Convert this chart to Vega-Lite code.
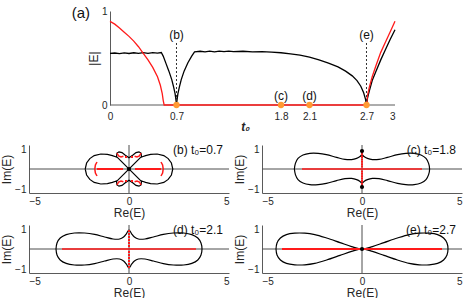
{
"$schema": "https://vega.github.io/schema/vega-lite/v6.json",
"padding": {"left": 0, "top": 5, "right": 0, "bottom": 0},
"config": {
 "view": {"stroke": null},
 "font": "Liberation Sans",
 "axis": {"grid": false, "ticks": false, "tickSize": 0, "domainColor": "#5a5a5a", "labelColor": "#262626", "titleColor": "#262626", "labelFontSize": 10, "titleFontSize": 12, "titleFontWeight": "normal", "labelPadding": 3, "titlePadding": 1},
 "text": {"font": "Liberation Sans"}
},
"datasets": {
 "T": [
  {"s":"black","t":0,"v":0.55},{"s":"black","t":0.05,"v":0.553},{"s":"black","t":0.1,"v":0.546},{"s":"black","t":0.15,"v":0.555},{"s":"black","t":0.2,"v":0.548},{"s":"black","t":0.25,"v":0.556},{"s":"black","t":0.3,"v":0.549},{"s":"black","t":0.35,"v":0.557},{"s":"black","t":0.4,"v":0.55},{"s":"black","t":0.45,"v":0.558},{"s":"black","t":0.5,"v":0.552},{"s":"black","t":0.54,"v":0.558},{"s":"black","t":0.56,"v":0.52},{"s":"black","t":0.59,"v":0.44},{"s":"black","t":0.62,"v":0.36},{"s":"black","t":0.65,"v":0.27},{"s":"black","t":0.67,"v":0.19},{"s":"black","t":0.685,"v":0.12},{"s":"black","t":0.695,"v":0.05},{"s":"black","t":0.7,"v":0},{"s":"black","t":0.705,"v":0.05},{"s":"black","t":0.715,"v":0.12},{"s":"black","t":0.73,"v":0.19},{"s":"black","t":0.75,"v":0.27},{"s":"black","t":0.78,"v":0.36},{"s":"black","t":0.82,"v":0.45},{"s":"black","t":0.86,"v":0.52},{"s":"black","t":0.89,"v":0.565},{"s":"black","t":0.95,"v":0.572},{"s":"black","t":1.0,"v":0.565},{"s":"black","t":1.05,"v":0.573},{"s":"black","t":1.1,"v":0.566},{"s":"black","t":1.15,"v":0.574},{"s":"black","t":1.2,"v":0.567},{"s":"black","t":1.25,"v":0.574},{"s":"black","t":1.3,"v":0.567},{"s":"black","t":1.4,"v":0.572},{"s":"black","t":1.5,"v":0.566},{"s":"black","t":1.6,"v":0.568},{"s":"black","t":1.7,"v":0.562},{"s":"black","t":1.8,"v":0.556},{"s":"black","t":1.9,"v":0.545},{"s":"black","t":2.0,"v":0.53},{"s":"black","t":2.1,"v":0.51},{"s":"black","t":2.2,"v":0.48},{"s":"black","t":2.3,"v":0.445},{"s":"black","t":2.4,"v":0.405},{"s":"black","t":2.48,"v":0.36},{"s":"black","t":2.55,"v":0.31},{"s":"black","t":2.6,"v":0.26},{"s":"black","t":2.64,"v":0.2},{"s":"black","t":2.67,"v":0.13},{"s":"black","t":2.69,"v":0.06},{"s":"black","t":2.7,"v":0},{"s":"black","t":2.71,"v":0.07},{"s":"black","t":2.73,"v":0.15},{"s":"black","t":2.76,"v":0.26},{"s":"black","t":2.8,"v":0.36},{"s":"black","t":2.85,"v":0.48},{"s":"black","t":2.9,"v":0.59},{"s":"black","t":2.95,"v":0.7},{"s":"black","t":3.0,"v":0.8},
  {"s":"red","t":0,"v":0.89},{"s":"red","t":0.05,"v":0.86},{"s":"red","t":0.1,"v":0.82},{"s":"red","t":0.15,"v":0.775},{"s":"red","t":0.2,"v":0.73},{"s":"red","t":0.25,"v":0.68},{"s":"red","t":0.3,"v":0.62},{"s":"red","t":0.35,"v":0.55},{"s":"red","t":0.4,"v":0.48},{"s":"red","t":0.45,"v":0.4},{"s":"red","t":0.5,"v":0.3},{"s":"red","t":0.53,"v":0.21},{"s":"red","t":0.55,"v":0.12},{"s":"red","t":0.56,"v":0.05},{"s":"red","t":0.57,"v":0},{"s":"red","t":1.5,"v":0},{"s":"red","t":2.7,"v":0},{"s":"red","t":2.71,"v":0.1},{"s":"red","t":2.73,"v":0.19},{"s":"red","t":2.76,"v":0.3},{"s":"red","t":2.8,"v":0.42},{"s":"red","t":2.85,"v":0.56},{"s":"red","t":2.9,"v":0.67},{"s":"red","t":2.95,"v":0.78},{"s":"red","t":3.0,"v":0.89}
 ],
 "P": [
  {"p":"b","k":"c","o":0,"x":-2.19,"y":0},{"p":"b","k":"c","o":1,"x":-2.12,"y":0.3},{"p":"b","k":"c","o":2,"x":-1.96,"y":0.52},{"p":"b","k":"c","o":3,"x":-1.74,"y":0.67},{"p":"b","k":"c","o":4,"x":-1.41,"y":0.75},{"p":"b","k":"c","o":5,"x":-1.08,"y":0.73},{"p":"b","k":"c","o":6,"x":-0.83,"y":0.67},{"p":"b","k":"c","o":7,"x":-0.63,"y":0.6},{"p":"b","k":"c","o":8,"x":-0.6,"y":0.8},{"p":"b","k":"c","o":9,"x":-0.5,"y":0.86},{"p":"b","k":"c","o":10,"x":-0.35,"y":0.82},{"p":"b","k":"c","o":11,"x":-0.2,"y":0.7},{"p":"b","k":"c","o":12,"x":0,"y":0.56},{"p":"b","k":"c","o":13,"x":0.2,"y":0.7},{"p":"b","k":"c","o":14,"x":0.35,"y":0.82},{"p":"b","k":"c","o":15,"x":0.5,"y":0.86},{"p":"b","k":"c","o":16,"x":0.6,"y":0.8},{"p":"b","k":"c","o":17,"x":0.63,"y":0.6},{"p":"b","k":"c","o":18,"x":0.83,"y":0.67},{"p":"b","k":"c","o":19,"x":1.08,"y":0.73},{"p":"b","k":"c","o":20,"x":1.41,"y":0.75},{"p":"b","k":"c","o":21,"x":1.74,"y":0.67},{"p":"b","k":"c","o":22,"x":1.96,"y":0.52},{"p":"b","k":"c","o":23,"x":2.12,"y":0.3},{"p":"b","k":"c","o":24,"x":2.19,"y":0},{"p":"b","k":"c","o":25,"x":2.12,"y":-0.3},{"p":"b","k":"c","o":26,"x":1.96,"y":-0.52},{"p":"b","k":"c","o":27,"x":1.74,"y":-0.67},{"p":"b","k":"c","o":28,"x":1.41,"y":-0.75},{"p":"b","k":"c","o":29,"x":1.08,"y":-0.73},{"p":"b","k":"c","o":30,"x":0.83,"y":-0.67},{"p":"b","k":"c","o":31,"x":0.63,"y":-0.6},{"p":"b","k":"c","o":32,"x":0.6,"y":-0.8},{"p":"b","k":"c","o":33,"x":0.5,"y":-0.86},{"p":"b","k":"c","o":34,"x":0.35,"y":-0.82},{"p":"b","k":"c","o":35,"x":0.2,"y":-0.7},{"p":"b","k":"c","o":36,"x":0,"y":-0.56},{"p":"b","k":"c","o":37,"x":-0.2,"y":-0.7},{"p":"b","k":"c","o":38,"x":-0.35,"y":-0.82},{"p":"b","k":"c","o":39,"x":-0.5,"y":-0.86},{"p":"b","k":"c","o":40,"x":-0.6,"y":-0.8},{"p":"b","k":"c","o":41,"x":-0.63,"y":-0.6},{"p":"b","k":"c","o":42,"x":-0.83,"y":-0.67},{"p":"b","k":"c","o":43,"x":-1.08,"y":-0.73},{"p":"b","k":"c","o":44,"x":-1.41,"y":-0.75},{"p":"b","k":"c","o":45,"x":-1.74,"y":-0.67},{"p":"b","k":"c","o":46,"x":-1.96,"y":-0.52},{"p":"b","k":"c","o":47,"x":-2.12,"y":-0.3},{"p":"b","k":"c","o":48,"x":-2.19,"y":0},
  {"p":"b","k":"s","g":"x1","o":0,"x":-0.62,"y":0.62},{"p":"b","k":"s","g":"x1","o":1,"x":0.62,"y":-0.62},{"p":"b","k":"s","g":"x2","o":0,"x":0.62,"y":0.62},{"p":"b","k":"s","g":"x2","o":1,"x":-0.62,"y":-0.62},
  {"p":"b","k":"r","g":"bl","o":0,"x":-1.6,"y":0.35},{"p":"b","k":"r","g":"bl","o":1,"x":-1.68,"y":0.2},{"p":"b","k":"r","g":"bl","o":2,"x":-1.71,"y":0},{"p":"b","k":"r","g":"bl","o":3,"x":-1.68,"y":-0.2},{"p":"b","k":"r","g":"bl","o":4,"x":-1.6,"y":-0.35},
  {"p":"b","k":"r","g":"br","o":0,"x":1.6,"y":0.35},{"p":"b","k":"r","g":"br","o":1,"x":1.68,"y":0.2},{"p":"b","k":"r","g":"br","o":2,"x":1.71,"y":0},{"p":"b","k":"r","g":"br","o":3,"x":1.68,"y":-0.2},{"p":"b","k":"r","g":"br","o":4,"x":1.6,"y":-0.35},
  {"p":"b","k":"r","g":"e1","o":0,"x":-0.6,"y":0.8},{"p":"b","k":"r","g":"e1","o":1,"x":-0.52,"y":0.65},{"p":"b","k":"r","g":"e1","o":2,"x":-0.4,"y":0.6},{"p":"b","k":"r","g":"e1","o":3,"x":-0.28,"y":0.64},
  {"p":"b","k":"r","g":"e2","o":0,"x":0.6,"y":0.8},{"p":"b","k":"r","g":"e2","o":1,"x":0.52,"y":0.65},{"p":"b","k":"r","g":"e2","o":2,"x":0.4,"y":0.6},{"p":"b","k":"r","g":"e2","o":3,"x":0.28,"y":0.64},
  {"p":"b","k":"r","g":"e3","o":0,"x":-0.6,"y":-0.8},{"p":"b","k":"r","g":"e3","o":1,"x":-0.52,"y":-0.65},{"p":"b","k":"r","g":"e3","o":2,"x":-0.4,"y":-0.6},{"p":"b","k":"r","g":"e3","o":3,"x":-0.28,"y":-0.64},
  {"p":"b","k":"r","g":"e4","o":0,"x":0.6,"y":-0.8},{"p":"b","k":"r","g":"e4","o":1,"x":0.52,"y":-0.65},{"p":"b","k":"r","g":"e4","o":2,"x":0.4,"y":-0.6},{"p":"b","k":"r","g":"e4","o":3,"x":0.28,"y":-0.64},
  {"p":"b","k":"p","x":0.35,"y":0},{"p":"b","k":"p","x":0.45,"y":0},{"p":"b","k":"p","x":0.55,"y":0},{"p":"b","k":"p","x":0.65,"y":0},{"p":"b","k":"p","x":0.75,"y":0},{"p":"b","k":"p","x":0.85,"y":0},{"p":"b","k":"p","x":0.95,"y":0},{"p":"b","k":"p","x":1.05,"y":0},{"p":"b","k":"p","x":1.15,"y":0},{"p":"b","k":"p","x":1.25,"y":0},{"p":"b","k":"p","x":1.35,"y":0},{"p":"b","k":"p","x":1.45,"y":0},{"p":"b","k":"p","x":1.55,"y":0},
  {"p":"b","k":"p","x":-0.35,"y":0},{"p":"b","k":"p","x":-0.45,"y":0},{"p":"b","k":"p","x":-0.55,"y":0},{"p":"b","k":"p","x":-0.65,"y":0},{"p":"b","k":"p","x":-0.75,"y":0},{"p":"b","k":"p","x":-0.85,"y":0},{"p":"b","k":"p","x":-0.95,"y":0},{"p":"b","k":"p","x":-1.05,"y":0},{"p":"b","k":"p","x":-1.15,"y":0},{"p":"b","k":"p","x":-1.25,"y":0},{"p":"b","k":"p","x":-1.35,"y":0},{"p":"b","k":"p","x":-1.45,"y":0},{"p":"b","k":"p","x":-1.55,"y":0},
  {"p":"b","k":"p","x":-0.15,"y":0.6},{"p":"b","k":"p","x":0.15,"y":0.6},{"p":"b","k":"p","x":-0.15,"y":-0.6},{"p":"b","k":"p","x":0.15,"y":-0.6},
  {"p":"b","k":"d","x":0,"y":0},

  {"p":"c","k":"c","o":0,"x":-3.38,"y":0},{"p":"c","k":"c","o":1,"x":-3.33,"y":0.28},{"p":"c","k":"c","o":2,"x":-3.2,"y":0.53},{"p":"c","k":"c","o":3,"x":-2.95,"y":0.7},{"p":"c","k":"c","o":4,"x":-2.61,"y":0.78},{"p":"c","k":"c","o":5,"x":-2.19,"y":0.78},{"p":"c","k":"c","o":6,"x":-1.78,"y":0.72},{"p":"c","k":"c","o":7,"x":-1.27,"y":0.58},{"p":"c","k":"c","o":8,"x":-0.85,"y":0.48},{"p":"c","k":"c","o":9,"x":-0.52,"y":0.47},{"p":"c","k":"c","o":10,"x":-0.27,"y":0.53},{"p":"c","k":"c","o":11,"x":-0.1,"y":0.62},{"p":"c","k":"c","o":12,"x":0,"y":0.72},{"p":"c","k":"c","o":13,"x":0.1,"y":0.62},{"p":"c","k":"c","o":14,"x":0.27,"y":0.53},{"p":"c","k":"c","o":15,"x":0.52,"y":0.47},{"p":"c","k":"c","o":16,"x":0.85,"y":0.48},{"p":"c","k":"c","o":17,"x":1.27,"y":0.58},{"p":"c","k":"c","o":18,"x":1.78,"y":0.72},{"p":"c","k":"c","o":19,"x":2.19,"y":0.78},{"p":"c","k":"c","o":20,"x":2.61,"y":0.78},{"p":"c","k":"c","o":21,"x":2.95,"y":0.7},{"p":"c","k":"c","o":22,"x":3.2,"y":0.53},{"p":"c","k":"c","o":23,"x":3.33,"y":0.28},{"p":"c","k":"c","o":24,"x":3.38,"y":0},{"p":"c","k":"c","o":25,"x":3.33,"y":-0.28},{"p":"c","k":"c","o":26,"x":3.2,"y":-0.53},{"p":"c","k":"c","o":27,"x":2.95,"y":-0.7},{"p":"c","k":"c","o":28,"x":2.61,"y":-0.78},{"p":"c","k":"c","o":29,"x":2.19,"y":-0.78},{"p":"c","k":"c","o":30,"x":1.78,"y":-0.72},{"p":"c","k":"c","o":31,"x":1.27,"y":-0.58},{"p":"c","k":"c","o":32,"x":0.85,"y":-0.48},{"p":"c","k":"c","o":33,"x":0.52,"y":-0.47},{"p":"c","k":"c","o":34,"x":0.27,"y":-0.53},{"p":"c","k":"c","o":35,"x":0.1,"y":-0.62},{"p":"c","k":"c","o":36,"x":0,"y":-0.72},{"p":"c","k":"c","o":37,"x":-0.1,"y":-0.62},{"p":"c","k":"c","o":38,"x":-0.27,"y":-0.53},{"p":"c","k":"c","o":39,"x":-0.52,"y":-0.47},{"p":"c","k":"c","o":40,"x":-0.85,"y":-0.48},{"p":"c","k":"c","o":41,"x":-1.27,"y":-0.58},{"p":"c","k":"c","o":42,"x":-1.78,"y":-0.72},{"p":"c","k":"c","o":43,"x":-2.19,"y":-0.78},{"p":"c","k":"c","o":44,"x":-2.61,"y":-0.78},{"p":"c","k":"c","o":45,"x":-2.95,"y":-0.7},{"p":"c","k":"c","o":46,"x":-3.2,"y":-0.53},{"p":"c","k":"c","o":47,"x":-3.33,"y":-0.28},{"p":"c","k":"c","o":48,"x":-3.38,"y":0},
  {"p":"c","k":"s","g":"t","o":0,"x":0,"y":0.72},{"p":"c","k":"s","g":"t","o":1,"x":0,"y":0.9},{"p":"c","k":"s","g":"b","o":0,"x":0,"y":-0.72},{"p":"c","k":"s","g":"b","o":1,"x":0,"y":-0.9},
  {"p":"c","k":"r","g":"h","o":0,"x":-3.0,"y":0},{"p":"c","k":"r","g":"h","o":1,"x":3.0,"y":0},
  {"p":"c","k":"p","x":0,"y":0.12},{"p":"c","k":"p","x":0,"y":0.24},{"p":"c","k":"p","x":0,"y":0.36},{"p":"c","k":"p","x":0,"y":0.48},{"p":"c","k":"p","x":0,"y":0.6},{"p":"c","k":"p","x":0,"y":0.72},{"p":"c","k":"p","x":0,"y":0.84},{"p":"c","k":"p","x":0,"y":-0.12},{"p":"c","k":"p","x":0,"y":-0.24},{"p":"c","k":"p","x":0,"y":-0.36},{"p":"c","k":"p","x":0,"y":-0.48},{"p":"c","k":"p","x":0,"y":-0.6},{"p":"c","k":"p","x":0,"y":-0.72},{"p":"c","k":"p","x":0,"y":-0.84},
  {"p":"c","k":"d","x":0,"y":0.9},{"p":"c","k":"d","x":0,"y":-0.9},

  {"p":"d","k":"c","o":0,"x":-3.65,"y":0},{"p":"d","k":"c","o":1,"x":-3.6,"y":0.3},{"p":"d","k":"c","o":2,"x":-3.44,"y":0.55},{"p":"d","k":"c","o":3,"x":-3.14,"y":0.72},{"p":"d","k":"c","o":4,"x":-2.73,"y":0.8},{"p":"d","k":"c","o":5,"x":-2.22,"y":0.8},{"p":"d","k":"c","o":6,"x":-1.72,"y":0.73},{"p":"d","k":"c","o":7,"x":-1.22,"y":0.6},{"p":"d","k":"c","o":8,"x":-0.8,"y":0.5},{"p":"d","k":"c","o":9,"x":-0.47,"y":0.5},{"p":"d","k":"c","o":10,"x":-0.27,"y":0.6},{"p":"d","k":"c","o":11,"x":-0.13,"y":0.76},{"p":"d","k":"c","o":12,"x":0,"y":0.95},{"p":"d","k":"c","o":13,"x":0.13,"y":0.76},{"p":"d","k":"c","o":14,"x":0.27,"y":0.6},{"p":"d","k":"c","o":15,"x":0.47,"y":0.5},{"p":"d","k":"c","o":16,"x":0.8,"y":0.5},{"p":"d","k":"c","o":17,"x":1.22,"y":0.6},{"p":"d","k":"c","o":18,"x":1.72,"y":0.73},{"p":"d","k":"c","o":19,"x":2.22,"y":0.8},{"p":"d","k":"c","o":20,"x":2.73,"y":0.8},{"p":"d","k":"c","o":21,"x":3.14,"y":0.72},{"p":"d","k":"c","o":22,"x":3.44,"y":0.55},{"p":"d","k":"c","o":23,"x":3.6,"y":0.3},{"p":"d","k":"c","o":24,"x":3.65,"y":0},{"p":"d","k":"c","o":25,"x":3.6,"y":-0.3},{"p":"d","k":"c","o":26,"x":3.44,"y":-0.55},{"p":"d","k":"c","o":27,"x":3.14,"y":-0.72},{"p":"d","k":"c","o":28,"x":2.73,"y":-0.8},{"p":"d","k":"c","o":29,"x":2.22,"y":-0.8},{"p":"d","k":"c","o":30,"x":1.72,"y":-0.73},{"p":"d","k":"c","o":31,"x":1.22,"y":-0.6},{"p":"d","k":"c","o":32,"x":0.8,"y":-0.5},{"p":"d","k":"c","o":33,"x":0.47,"y":-0.5},{"p":"d","k":"c","o":34,"x":0.27,"y":-0.6},{"p":"d","k":"c","o":35,"x":0.13,"y":-0.76},{"p":"d","k":"c","o":36,"x":0,"y":-0.95},{"p":"d","k":"c","o":37,"x":-0.13,"y":-0.76},{"p":"d","k":"c","o":38,"x":-0.27,"y":-0.6},{"p":"d","k":"c","o":39,"x":-0.47,"y":-0.5},{"p":"d","k":"c","o":40,"x":-0.8,"y":-0.5},{"p":"d","k":"c","o":41,"x":-1.22,"y":-0.6},{"p":"d","k":"c","o":42,"x":-1.72,"y":-0.73},{"p":"d","k":"c","o":43,"x":-2.22,"y":-0.8},{"p":"d","k":"c","o":44,"x":-2.73,"y":-0.8},{"p":"d","k":"c","o":45,"x":-3.14,"y":-0.72},{"p":"d","k":"c","o":46,"x":-3.44,"y":-0.55},{"p":"d","k":"c","o":47,"x":-3.6,"y":-0.3},{"p":"d","k":"c","o":48,"x":-3.65,"y":0},
  {"p":"d","k":"r","g":"h","o":0,"x":-3.35,"y":0},{"p":"d","k":"r","g":"h","o":1,"x":3.35,"y":0},
  {"p":"d","k":"p","x":0,"y":0.15},{"p":"d","k":"p","x":0,"y":0.3},{"p":"d","k":"p","x":0,"y":0.45},{"p":"d","k":"p","x":0,"y":0.6},{"p":"d","k":"p","x":0,"y":0.75},{"p":"d","k":"p","x":0,"y":0.9},{"p":"d","k":"p","x":0,"y":-0.15},{"p":"d","k":"p","x":0,"y":-0.3},{"p":"d","k":"p","x":0,"y":-0.45},{"p":"d","k":"p","x":0,"y":-0.6},{"p":"d","k":"p","x":0,"y":-0.75},{"p":"d","k":"p","x":0,"y":-0.9},

  {"p":"e","k":"c","o":0,"x":-4.3,"y":0},{"p":"e","k":"c","o":1,"x":-4.25,"y":0.3},{"p":"e","k":"c","o":2,"x":-4.08,"y":0.55},{"p":"e","k":"c","o":3,"x":-3.78,"y":0.72},{"p":"e","k":"c","o":4,"x":-3.36,"y":0.79},{"p":"e","k":"c","o":5,"x":-2.86,"y":0.79},{"p":"e","k":"c","o":6,"x":-2.36,"y":0.72},{"p":"e","k":"c","o":7,"x":-1.77,"y":0.55},{"p":"e","k":"c","o":8,"x":-1.1,"y":0.32},{"p":"e","k":"c","o":9,"x":-0.52,"y":0.12},{"p":"e","k":"c","o":10,"x":0,"y":0},{"p":"e","k":"c","o":11,"x":0.52,"y":0.12},{"p":"e","k":"c","o":12,"x":1.1,"y":0.32},{"p":"e","k":"c","o":13,"x":1.77,"y":0.55},{"p":"e","k":"c","o":14,"x":2.36,"y":0.72},{"p":"e","k":"c","o":15,"x":2.86,"y":0.79},{"p":"e","k":"c","o":16,"x":3.36,"y":0.79},{"p":"e","k":"c","o":17,"x":3.78,"y":0.72},{"p":"e","k":"c","o":18,"x":4.08,"y":0.55},{"p":"e","k":"c","o":19,"x":4.25,"y":0.3},{"p":"e","k":"c","o":20,"x":4.3,"y":0},{"p":"e","k":"c","o":21,"x":4.25,"y":-0.3},{"p":"e","k":"c","o":22,"x":4.08,"y":-0.55},{"p":"e","k":"c","o":23,"x":3.78,"y":-0.72},{"p":"e","k":"c","o":24,"x":3.36,"y":-0.79},{"p":"e","k":"c","o":25,"x":2.86,"y":-0.79},{"p":"e","k":"c","o":26,"x":2.36,"y":-0.72},{"p":"e","k":"c","o":27,"x":1.77,"y":-0.55},{"p":"e","k":"c","o":28,"x":1.1,"y":-0.32},{"p":"e","k":"c","o":29,"x":0.52,"y":-0.12},{"p":"e","k":"c","o":30,"x":0,"y":0},{"p":"e","k":"c","o":31,"x":-0.52,"y":-0.12},{"p":"e","k":"c","o":32,"x":-1.1,"y":-0.32},{"p":"e","k":"c","o":33,"x":-1.77,"y":-0.55},{"p":"e","k":"c","o":34,"x":-2.36,"y":-0.72},{"p":"e","k":"c","o":35,"x":-2.86,"y":-0.79},{"p":"e","k":"c","o":36,"x":-3.36,"y":-0.79},{"p":"e","k":"c","o":37,"x":-3.78,"y":-0.72},{"p":"e","k":"c","o":38,"x":-4.08,"y":-0.55},{"p":"e","k":"c","o":39,"x":-4.25,"y":-0.3},{"p":"e","k":"c","o":40,"x":-4.3,"y":0},
  {"p":"e","k":"r","g":"h","o":0,"x":-4.0,"y":0},{"p":"e","k":"r","g":"h","o":1,"x":4.0,"y":0},
  {"p":"e","k":"d","x":0,"y":0}
 ]
},
"spacing": 11,
"vconcat": [
 {"width": 366, "height": 94,
  "layer": [
   {"data": {"values": [{}]}, "mark": {"type": "rule", "color": "#5a5a5a"},
    "encoding": {"x": {"datum": 0, "type": "quantitative"}, "x2": {"datum": 3}, "y": {"datum": 0, "type": "quantitative"}}},
   {"data": {"name": "T"}, "mark": {"type": "line", "strokeWidth": 1.3},
    "encoding": {
     "x": {"field": "t", "type": "quantitative", "scale": {"domain": [-0.8526, 3], "nice": false, "zero": false}, "axis": {"values": [0, 0.7, 1.8, 2.1, 2.7, 3], "format": "~g", "domain": false, "title": "t₀", "titleFontStyle": "italic", "titleFontWeight": "bold", "labelPadding": 6, "titlePadding": 0, "titleX": 216}},
     "y": {"field": "v", "type": "quantitative", "scale": {"domain": [0, 1], "nice": false}, "axis": {"values": [0, 1], "format": "~g", "title": "|E|", "offset": -81}},
     "color": {"field": "s", "type": "nominal", "scale": {"domain": ["black", "red"], "range": ["#000000", "#ff1a1a"]}, "legend": null}}},
   {"data": {"values": [{"t": 0.7}, {"t": 2.7}]}, "mark": {"type": "rule", "strokeDash": [2, 2], "color": "#333", "strokeWidth": 1},
    "encoding": {"x": {"field": "t", "type": "quantitative"}, "y": {"datum": 0, "type": "quantitative"}, "y2": {"datum": 0.67}}},
   {"data": {"values": [{"t": 0.7, "lab": "(b)"}, {"t": 2.7, "lab": "(e)"}]}, "mark": {"type": "text", "fontSize": 12, "color": "#111"},
    "encoding": {"x": {"field": "t", "type": "quantitative"}, "y": {"datum": 0.745, "type": "quantitative"}, "text": {"field": "lab"}}},
   {"data": {"values": [{"t": 1.8, "lab": "(c)"}, {"t": 2.1, "lab": "(d)"}]}, "mark": {"type": "text", "fontSize": 12, "color": "#111"},
    "encoding": {"x": {"field": "t", "type": "quantitative"}, "y": {"datum": 0.096, "type": "quantitative"}, "text": {"field": "lab"}}},
   {"data": {"values": [{"lab": "(a)"}]}, "mark": {"type": "text", "fontSize": 15, "color": "#111", "align": "right"},
    "encoding": {"x": {"datum": -0.21, "type": "quantitative"}, "y": {"datum": 0.98, "type": "quantitative"}, "text": {"field": "lab"}}},
   {"data": {"values": [{"t": 0.7}, {"t": 1.8}, {"t": 2.1}, {"t": 2.7}]}, "mark": {"type": "point", "filled": true, "size": 40, "color": "#ff9a33", "opacity": 1},
    "encoding": {"x": {"field": "t", "type": "quantitative"}, "y": {"datum": 0, "type": "quantitative"}}}
  ]},
 {"columns": 2, "spacing": {"row": 5, "column": 3},
  "concat": [
   {"width": 200, "height": 48, "data": {"name": "P"},
    "layer": [
     {"data": {"values": [{}]}, "mark": {"type": "rule", "color": "#4d4d4d"}, "encoding": {"y": {"datum": 0, "type": "quantitative"}}},
     {"data": {"values": [{}]}, "mark": {"type": "rule", "color": "#4d4d4d"}, "encoding": {"x": {"datum": 0, "type": "quantitative"}}},
     {"transform": [{"filter": "datum.p=='b' && datum.k=='c'"}], "mark": {"type": "line", "color": "#000", "strokeWidth": 1.2},
      "encoding": {"x": {"field": "x", "type": "quantitative", "scale": {"domain": [-5, 5], "nice": false}, "axis": {"values": [-5, 0, 5], "title": "Re(E)", "titlePadding": 1}}, "y": {"field": "y", "type": "quantitative", "scale": {"domain": [-1.2, 1.2], "nice": false}, "axis": {"values": [-1, 0, 1], "title": "Im(E)"}}, "order": {"field": "o", "type": "quantitative"}}},
     {"transform": [{"filter": "datum.p=='b' && datum.k=='s'"}], "mark": {"type": "line", "color": "#000", "strokeWidth": 1.2},
      "encoding": {"x": {"field": "x", "type": "quantitative"}, "y": {"field": "y", "type": "quantitative"}, "detail": {"field": "g"}, "order": {"field": "o", "type": "quantitative"}}},
     {"transform": [{"filter": "datum.p=='b' && datum.k=='r'"}], "mark": {"type": "line", "color": "#ff1a1a", "strokeWidth": 1.5},
      "encoding": {"x": {"field": "x", "type": "quantitative"}, "y": {"field": "y", "type": "quantitative"}, "detail": {"field": "g"}, "order": {"field": "o", "type": "quantitative"}}},
     {"transform": [{"filter": "datum.p=='b' && datum.k=='p'"}], "mark": {"type": "square", "filled": true, "size": 4, "color": "#ff1a1a", "opacity": 1},
      "encoding": {"x": {"field": "x", "type": "quantitative"}, "y": {"field": "y", "type": "quantitative"}}},
     {"transform": [{"filter": "datum.p=='b' && datum.k=='d'"}], "mark": {"type": "circle", "size": 18, "color": "#000", "opacity": 1},
      "encoding": {"x": {"field": "x", "type": "quantitative"}, "y": {"field": "y", "type": "quantitative"}}},
     {"data": {"values": [{"lab": "(b) t₀=0.7"}]}, "mark": {"type": "text", "fontSize": 12, "color": "#111", "align": "right"},
      "encoding": {"x": {"datum": 4.7, "type": "quantitative"}, "y": {"datum": 0.95, "type": "quantitative"}, "text": {"field": "lab"}}}
    ]},
   {"width": 200, "height": 48, "data": {"name": "P"},
    "layer": [
     {"data": {"values": [{}]}, "mark": {"type": "rule", "color": "#4d4d4d"}, "encoding": {"y": {"datum": 0, "type": "quantitative"}}},
     {"data": {"values": [{}]}, "mark": {"type": "rule", "color": "#4d4d4d"}, "encoding": {"x": {"datum": 0, "type": "quantitative"}}},
     {"transform": [{"filter": "datum.p=='c' && datum.k=='c'"}], "mark": {"type": "line", "color": "#000", "strokeWidth": 1.2, "interpolate": "catmull-rom"},
      "encoding": {"x": {"field": "x", "type": "quantitative", "scale": {"domain": [-5, 5], "nice": false}, "axis": {"values": [-5, 0, 5], "title": "Re(E)", "titlePadding": 1}}, "y": {"field": "y", "type": "quantitative", "scale": {"domain": [-1.2, 1.2], "nice": false}, "axis": {"values": [-1, 0, 1], "title": "Im(E)"}}, "order": {"field": "o", "type": "quantitative"}}},
     {"transform": [{"filter": "datum.p=='c' && datum.k=='s'"}], "mark": {"type": "line", "color": "#000", "strokeWidth": 1.2},
      "encoding": {"x": {"field": "x", "type": "quantitative"}, "y": {"field": "y", "type": "quantitative"}, "detail": {"field": "g"}, "order": {"field": "o", "type": "quantitative"}}},
     {"transform": [{"filter": "datum.p=='c' && datum.k=='r'"}], "mark": {"type": "line", "color": "#ff1a1a", "strokeWidth": 1.5},
      "encoding": {"x": {"field": "x", "type": "quantitative"}, "y": {"field": "y", "type": "quantitative"}, "detail": {"field": "g"}, "order": {"field": "o", "type": "quantitative"}}},
     {"transform": [{"filter": "datum.p=='c' && datum.k=='p'"}], "mark": {"type": "square", "filled": true, "size": 4, "color": "#ff1a1a", "opacity": 1},
      "encoding": {"x": {"field": "x", "type": "quantitative"}, "y": {"field": "y", "type": "quantitative"}}},
     {"transform": [{"filter": "datum.p=='c' && datum.k=='d'"}], "mark": {"type": "circle", "size": 18, "color": "#000", "opacity": 1},
      "encoding": {"x": {"field": "x", "type": "quantitative"}, "y": {"field": "y", "type": "quantitative"}}},
     {"data": {"values": [{"lab": "(c) t₀=1.8"}]}, "mark": {"type": "text", "fontSize": 12, "color": "#111", "align": "right"},
      "encoding": {"x": {"datum": 4.7, "type": "quantitative"}, "y": {"datum": 0.95, "type": "quantitative"}, "text": {"field": "lab"}}}
    ]},
   {"width": 200, "height": 48, "data": {"name": "P"},
    "layer": [
     {"data": {"values": [{}]}, "mark": {"type": "rule", "color": "#4d4d4d"}, "encoding": {"y": {"datum": 0, "type": "quantitative"}}},
     {"data": {"values": [{}]}, "mark": {"type": "rule", "color": "#4d4d4d"}, "encoding": {"x": {"datum": 0, "type": "quantitative"}}},
     {"transform": [{"filter": "datum.p=='d' && datum.k=='c'"}], "mark": {"type": "line", "color": "#000", "strokeWidth": 1.2, "interpolate": "catmull-rom"},
      "encoding": {"x": {"field": "x", "type": "quantitative", "scale": {"domain": [-5, 5], "nice": false}, "axis": {"values": [-5, 0, 5], "title": "Re(E)", "titlePadding": 1}}, "y": {"field": "y", "type": "quantitative", "scale": {"domain": [-1.2, 1.2], "nice": false}, "axis": {"values": [-1, 0, 1], "title": "Im(E)"}}, "order": {"field": "o", "type": "quantitative"}}},
     {"transform": [{"filter": "datum.p=='d' && datum.k=='r'"}], "mark": {"type": "line", "color": "#ff1a1a", "strokeWidth": 1.5},
      "encoding": {"x": {"field": "x", "type": "quantitative"}, "y": {"field": "y", "type": "quantitative"}, "detail": {"field": "g"}, "order": {"field": "o", "type": "quantitative"}}},
     {"transform": [{"filter": "datum.p=='d' && datum.k=='p'"}], "mark": {"type": "square", "filled": true, "size": 4, "color": "#ff1a1a", "opacity": 1},
      "encoding": {"x": {"field": "x", "type": "quantitative"}, "y": {"field": "y", "type": "quantitative"}}},
     {"data": {"values": [{"lab": "(d) t₀=2.1"}]}, "mark": {"type": "text", "fontSize": 12, "color": "#111", "align": "right"},
      "encoding": {"x": {"datum": 4.7, "type": "quantitative"}, "y": {"datum": 0.95, "type": "quantitative"}, "text": {"field": "lab"}}}
    ]},
   {"width": 200, "height": 48, "data": {"name": "P"},
    "layer": [
     {"data": {"values": [{}]}, "mark": {"type": "rule", "color": "#4d4d4d"}, "encoding": {"y": {"datum": 0, "type": "quantitative"}}},
     {"data": {"values": [{}]}, "mark": {"type": "rule", "color": "#4d4d4d"}, "encoding": {"x": {"datum": 0, "type": "quantitative"}}},
     {"transform": [{"filter": "datum.p=='e' && datum.k=='c'"}], "mark": {"type": "line", "color": "#000", "strokeWidth": 1.2, "interpolate": "catmull-rom"},
      "encoding": {"x": {"field": "x", "type": "quantitative", "scale": {"domain": [-5, 5], "nice": false}, "axis": {"values": [-5, 0, 5], "title": "Re(E)", "titlePadding": 1}}, "y": {"field": "y", "type": "quantitative", "scale": {"domain": [-1.2, 1.2], "nice": false}, "axis": {"values": [-1, 0, 1], "title": "Im(E)"}}, "order": {"field": "o", "type": "quantitative"}}},
     {"transform": [{"filter": "datum.p=='e' && datum.k=='r'"}], "mark": {"type": "line", "color": "#ff1a1a", "strokeWidth": 2.2},
      "encoding": {"x": {"field": "x", "type": "quantitative"}, "y": {"field": "y", "type": "quantitative"}, "detail": {"field": "g"}, "order": {"field": "o", "type": "quantitative"}}},
     {"transform": [{"filter": "datum.p=='e' && datum.k=='d'"}], "mark": {"type": "circle", "size": 18, "color": "#000", "opacity": 1},
      "encoding": {"x": {"field": "x", "type": "quantitative"}, "y": {"field": "y", "type": "quantitative"}}},
     {"data": {"values": [{"lab": "(e) t₀=2.7"}]}, "mark": {"type": "text", "fontSize": 12, "color": "#111", "align": "right"},
      "encoding": {"x": {"datum": 4.7, "type": "quantitative"}, "y": {"datum": 0.95, "type": "quantitative"}, "text": {"field": "lab"}}}
    ]}
  ]}
]
}
